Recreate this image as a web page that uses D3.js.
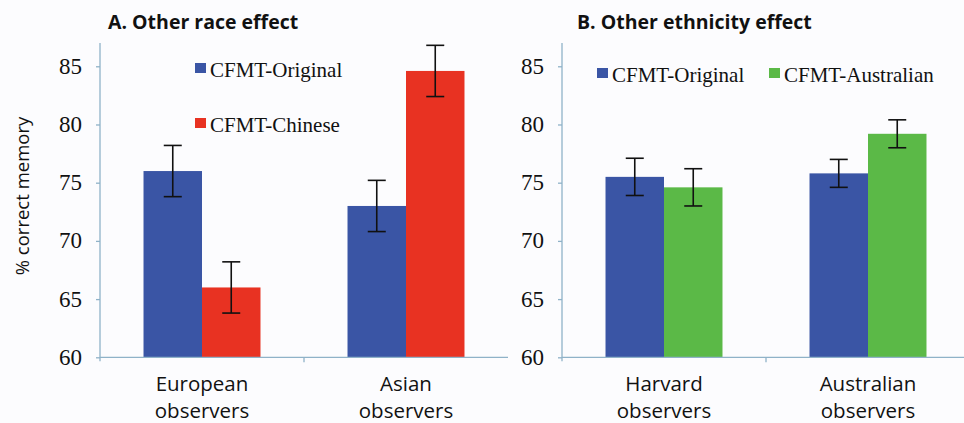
<!DOCTYPE html>
<html>
<head>
<meta charset="utf-8">
<script src="https://cdn.jsdelivr.net/npm/d3@7"></script>
<style>
  html, body { margin: 0; padding: 0; background: #fcfcfe; }
  svg { display: block; }
</style>
</head>
<body>
<svg id="chart" width="964" height="423"></svg>
<script>
// Panel A: other race effect
const raceGroups = ["European observers", "Asian observers"];
const raceSeries = ["CFMT-Original", "CFMT-Chinese"];
const raceMeans = [[76.0, 66.0], [73.0, 84.6]];
const raceErrors = [[2.2, 2.2], [2.2, 2.2]];

// Panel B: other ethnicity effect
const ethGroups = ["Harvard observers", "Australian observers"];
const ethSeries = ["CFMT-Original", "CFMT-Australian"];
const ethMeans = [[75.5, 74.6], [75.8, 79.2]];
const ethErrors = [[1.6, 1.6], [1.2, 1.2]];

const yTicks = [60, 65, 70, 75, 80, 85];

const colors = {
  "CFMT-Original": "#3a55a5",
  "CFMT-Chinese": "#e83222",
  "CFMT-Australian": "#5bb947"
};

const svg = d3.select("#chart");
const axisColor = "#8fb2c8";
const serif = "Liberation Serif, Times New Roman, serif";
const sans = "Open Sans, Liberation Sans, sans-serif";

const y = d3.scaleLinear().domain([60, 87]).range([357.3, 43]);

function drawPanel(opts) {
  const g = svg.append("g");
  const x0 = d3.scaleBand().domain(opts.groups).range([opts.left, opts.left + 408]).padding(0);
  const x1 = d3.scaleBand().domain(opts.series).range([0, x0.bandwidth()])
    .paddingInner(0).paddingOuter(0.744);

  // bars
  opts.groups.forEach((grp, gi) => {
    opts.series.forEach((s, si) => {
      const v = opts.means[gi][si];
      g.append("rect")
        .attr("x", x0(grp) + x1(s))
        .attr("y", y(v))
        .attr("width", x1.bandwidth())
        .attr("height", y(60) - y(v))
        .attr("fill", colors[s]);
    });
  });

  // error bars
  opts.groups.forEach((grp, gi) => {
    opts.series.forEach((s, si) => {
      const v = opts.means[gi][si], e = opts.errors[gi][si];
      const cx = x0(grp) + x1(s) + x1.bandwidth() / 2;
      const eg = g.append("g").attr("stroke", "#111").attr("stroke-width", 1.6);
      eg.append("line").attr("x1", cx).attr("x2", cx).attr("y1", y(v + e)).attr("y2", y(v - e));
      eg.append("line").attr("x1", cx - 9).attr("x2", cx + 9).attr("y1", y(v + e)).attr("y2", y(v + e));
      eg.append("line").attr("x1", cx - 9).attr("x2", cx + 9).attr("y1", y(v - e)).attr("y2", y(v - e));
    });
  });

  // y axis: line and tick marks from d3, labels set in the serif face
  const yAxis = g.append("g")
    .attr("transform", `translate(${opts.left},0)`)
    .call(d3.axisLeft(y).tickValues(yTicks).tickSize(4).tickSizeOuter(0).tickFormat(""));
  yAxis.select(".domain").attr("stroke", axisColor).attr("stroke-width", 1.3)
    .attr("d", `M0,${y(87)}V${y(60) + 4}`);
  yAxis.selectAll(".tick line").attr("stroke", axisColor).attr("stroke-width", 1.3);
  yAxis.selectAll(".tick text").remove();
  g.selectAll(null).data(yTicks).enter().append("text")
    .attr("x", opts.left - 18)
    .attr("y", d => y(d))
    .attr("dy", "0.33em")
    .attr("text-anchor", "end")
    .attr("font-family", serif).attr("font-size", 23).attr("fill", "#111")
    .text(d => d);

  // x axis
  const xAxis = g.append("g").attr("transform", `translate(0,${y(60)})`);
  xAxis.append("line")
    .attr("x1", opts.left).attr("x2", opts.left + 408)
    .attr("stroke", axisColor).attr("stroke-width", 1.3);
  xAxis.append("line")
    .attr("x1", x0(opts.groups[1])).attr("x2", x0(opts.groups[1]))
    .attr("y1", 0).attr("y2", 5)
    .attr("stroke", axisColor).attr("stroke-width", 1.3);

  // category labels (two lines)
  opts.groups.forEach(grp => {
    const words = grp.split(" ");
    const cx = x0(grp) + x0.bandwidth() / 2;
    const t = g.append("text")
      .attr("x", cx)
      .attr("y", 391)
      .attr("text-anchor", "middle")
      .attr("font-family", sans).attr("font-size", 20.5).attr("fill", "#111");
    t.append("tspan").attr("x", cx).text(words[0]);
    t.append("tspan").attr("x", cx).attr("dy", 27).text(words[1]);
  });

  // title
  g.append("text")
    .attr("x", opts.titleX).attr("y", 29)
    .attr("font-family", sans).attr("font-weight", "bold").attr("font-size", 19.5)
    .attr("fill", "#111").text(opts.title);

  // legend
  opts.legend.forEach(L => {
    g.append("rect").attr("x", L.x).attr("y", L.y - 14).attr("width", 11).attr("height", 10)
      .attr("fill", colors[L.name]);
    g.append("text").attr("x", L.x + 15).attr("y", L.y)
      .attr("font-family", serif).attr("font-size", 21).attr("fill", "#111")
      .text(L.name);
  });
}

drawPanel({
  groups: raceGroups, series: raceSeries, means: raceMeans, errors: raceErrors,
  left: 100, title: "A. Other race effect", titleX: 108,
  legend: [{ name: raceSeries[0], x: 195, y: 77 }, { name: raceSeries[1], x: 195, y: 132 }]
});

drawPanel({
  groups: ethGroups, series: ethSeries, means: ethMeans, errors: ethErrors,
  left: 562, title: "B. Other ethnicity effect", titleX: 577,
  legend: [{ name: ethSeries[0], x: 597, y: 82 }, { name: ethSeries[1], x: 769, y: 82 }]
});

// shared y-axis title
svg.append("text")
  .attr("transform", "translate(29,196) rotate(-90)")
  .attr("text-anchor", "middle")
  .attr("font-family", sans).attr("font-size", 18.5).attr("fill", "#111")
  .text("% correct memory");
</script>
</body>
</html>
